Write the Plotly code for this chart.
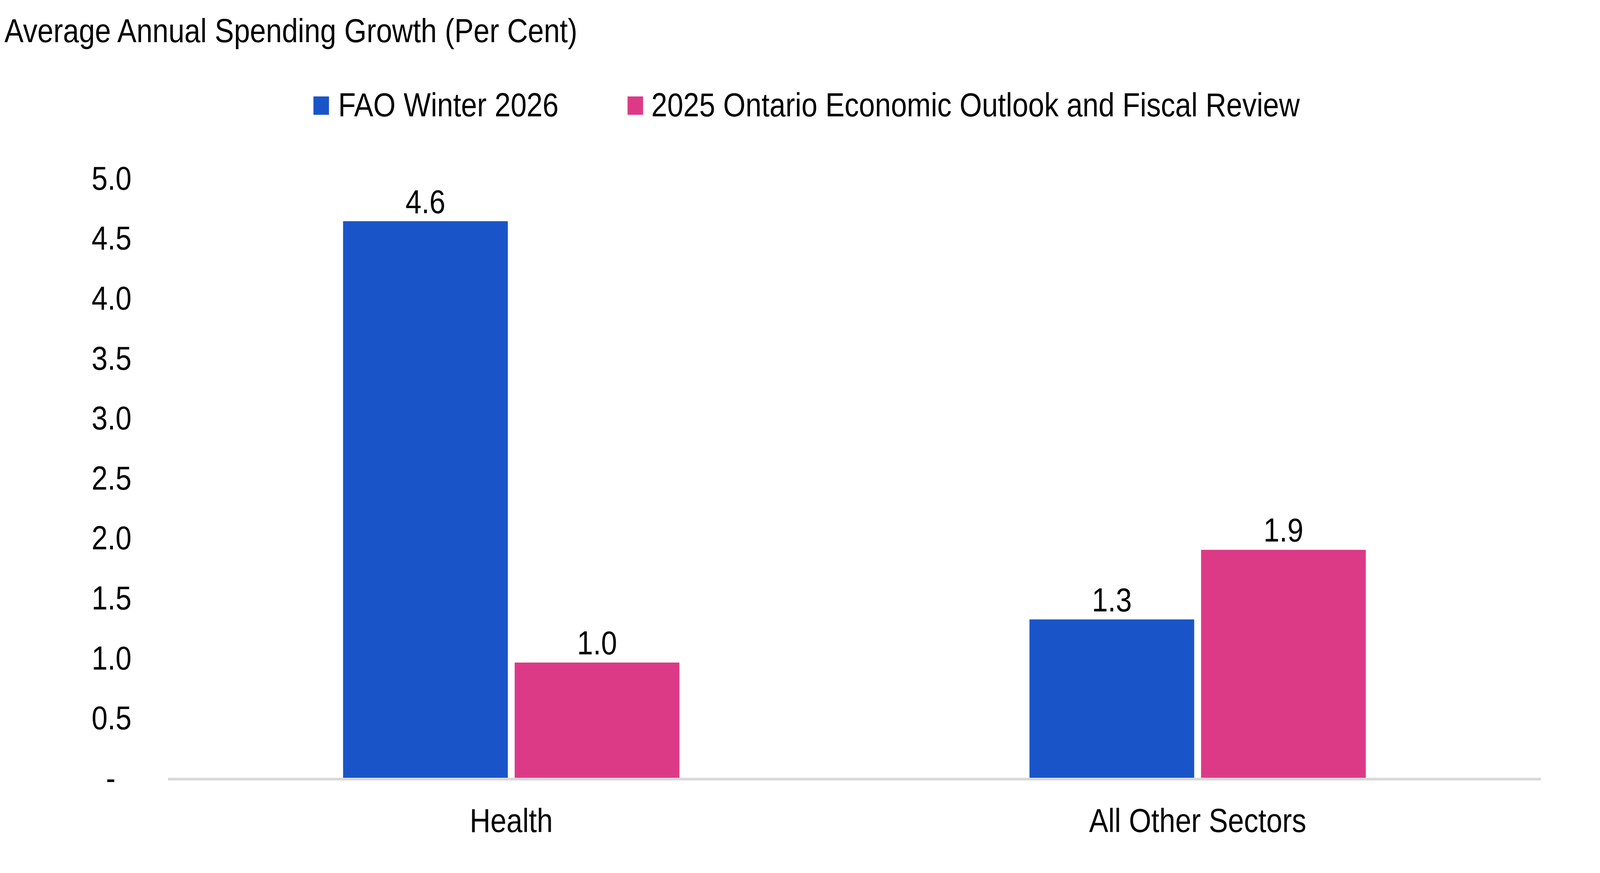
import plotly.graph_objects as go

categories = ["Health", "All Other Sectors"]
series_names = ["FAO Winter 2026", "2025 Ontario Economic Outlook and Fiscal Review"]
fao_values = [4.64, 1.32]
fall_values = [0.96, 1.90]
colors = ["#1955C8", "#DC3A87"]
tick_vals = [0, 0.5, 1.0, 1.5, 2.0, 2.5, 3.0, 3.5, 4.0, 4.5, 5.0]
tick_text = ["-\u00a0\u00a0", "0.5", "1.0", "1.5", "2.0", "2.5", "3.0", "3.5", "4.0", "4.5", "5.0"]
title_text = "Average Annual Spending Growth (Per Cent)"

W, H = 4732, 2236
L, R, T, B = 497, 175, 456, 244
FONT = "Liberation Sans, Arial, Helvetica, sans-serif"
FS = 85

fig = go.Figure()
for name, vals, col in zip(series_names, [fao_values, fall_values], colors):
    fig.add_trace(go.Bar(
        x=categories, y=vals, name=name, marker=dict(color=col, line=dict(width=0)),
        texttemplate="%{y:.1f}", textposition="outside", cliponaxis=False,
        textfont=dict(family=FONT, size=FS, color="black"), showlegend=False,
    ))

pw = W - L - R
ph = H - T - B
def px_x(p):
    return (p - L) / pw
def px_y(p):
    return (H - B - p) / ph

shapes = []
annotations = []
leg = [(927, 973, 998), (1856, 1902, 1924)]
for (x0, x1, tx), name, col in zip(leg, series_names, colors):
    shapes.append(dict(type="rect", xref="paper", yref="paper",
                       x0=px_x(x0), x1=px_x(x1), y0=px_y(294), y1=px_y(247),
                       fillcolor=col, line=dict(width=0)))
    annotations.append(dict(text=name, xref="paper", yref="paper", x=px_x(tx), y=px_y(268),
                            xanchor="left", yanchor="middle", showarrow=False,
                            font=dict(family=FONT, size=FS, color="black")))

fig.update_layout(
    width=W, height=H,
    margin=dict(l=L, r=R, t=T, b=B, pad=0),
    paper_bgcolor="white", plot_bgcolor="white",
    barmode="group", bargap=0.5, bargroupgap=0.04,
    font=dict(family=FONT, size=FS, color="black"),
    title=dict(text=title_text, xref="container", yref="container",
               x=13 / W, y=1 - 78 / H, xanchor="left", yanchor="middle",
               font=dict(family=FONT, size=FS, color="black")),
    shapes=shapes, annotations=annotations,
    showlegend=False,
)
fig.update_xaxes(showline=True, linecolor="#D9D9D9", linewidth=7, showgrid=False,
                 ticks="", ticklabelstandoff=30,
                 tickfont=dict(family=FONT, size=FS, color="black"))
fig.update_yaxes(range=[0, 5], tickvals=tick_vals, ticktext=tick_text,
                 showgrid=False, zeroline=False, showline=False, ticks="",
                 ticklabelstandoff=107,
                 tickfont=dict(family=FONT, size=FS, color="black"))

# Fit the 4732x2236 figure into whatever viewport the browser actually provides.
post = """
var gd = document.getElementById('{plot_id}');
var iw = window.innerWidth, ih = window.innerHeight;
var sx = iw / %d, sy = ih / %d;
document.documentElement.style.margin = '0';
document.body.style.margin = '0';
document.documentElement.style.overflow = 'hidden';
document.body.style.overflow = 'hidden';
var p = gd.parentElement;
p.style.width = iw + 'px';
p.style.height = ih + 'px';
p.style.overflow = 'hidden';
gd.style.width = '%dpx';
gd.style.height = '%dpx';
gd.style.transformOrigin = '0 0';
gd.style.transform = 'scale(' + sx + ',' + sy + ')';
""" % (W, H, W, H)

fig.write_html("out.html", post_script=post, config={"displayModeBar": False})
